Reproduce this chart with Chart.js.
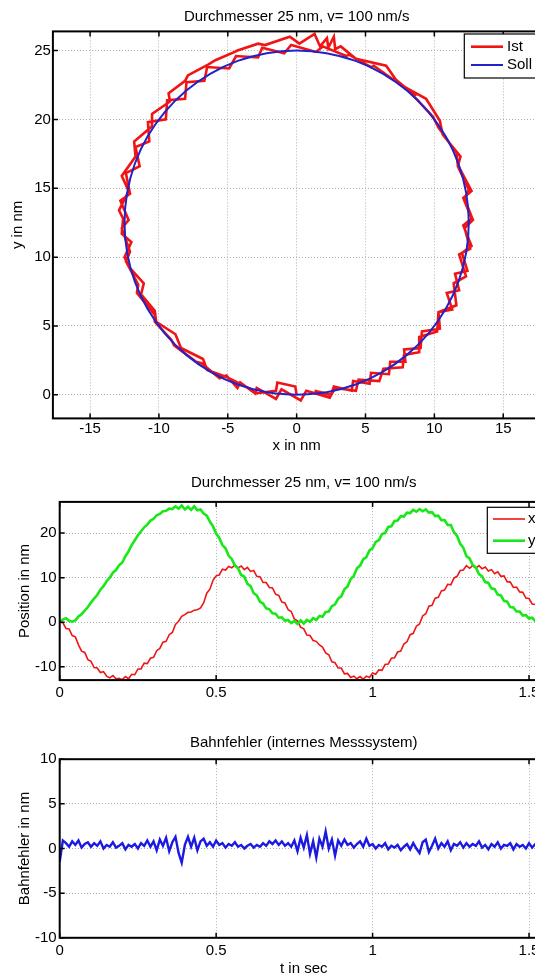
<!DOCTYPE html>
<html>
<head>
<meta charset="utf-8">
<script src="https://cdn.jsdelivr.net/npm/chart.js@4.4.1/dist/chart.umd.min.js"></script>
<style>
  html, body { margin: 0; padding: 0; background: #fff; overflow: hidden; }
  #page { position: relative; width: 535px; height: 979px; overflow: hidden; }
  canvas { position: absolute; left: 0; }
</style>
</head>
<body>
<div id="page">
  <canvas id="circleChart" width="575" height="460" style="top:0"></canvas>
  <canvas id="posChart" width="575" height="260" style="top:460px"></canvas>
  <canvas id="errChart" width="575" height="259" style="top:720px"></canvas>
</div>
<script>
// time base in sec (sampled every 10 ms)
const tSec = [
  0, 0.01, 0.02, 0.03, 0.04, 0.05, 0.06, 0.07, 0.08, 0.09,
  0.1, 0.11, 0.12, 0.13, 0.14, 0.15, 0.16, 0.17, 0.18, 0.19,
  0.2, 0.21, 0.22, 0.23, 0.24, 0.25, 0.26, 0.27, 0.28, 0.29,
  0.3, 0.31, 0.32, 0.33, 0.34, 0.35, 0.36, 0.37, 0.38, 0.39,
  0.4, 0.41, 0.42, 0.43, 0.44, 0.45, 0.46, 0.47, 0.48, 0.49,
  0.5, 0.51, 0.52, 0.53, 0.54, 0.55, 0.56, 0.57, 0.58, 0.59,
  0.6, 0.61, 0.62, 0.63, 0.64, 0.65, 0.66, 0.67, 0.68, 0.69,
  0.7, 0.71, 0.72, 0.73, 0.74, 0.75, 0.76, 0.77, 0.78, 0.79,
  0.8, 0.81, 0.82, 0.83, 0.84, 0.85, 0.86, 0.87, 0.88, 0.89,
  0.9, 0.91, 0.92, 0.93, 0.94, 0.95, 0.96, 0.97, 0.98, 0.99,
  1, 1.01, 1.02, 1.03, 1.04, 1.05, 1.06, 1.07, 1.08, 1.09,
  1.1, 1.11, 1.12, 1.13, 1.14, 1.15, 1.16, 1.17, 1.18, 1.19,
  1.2, 1.21, 1.22, 1.23, 1.24, 1.25, 1.26, 1.27, 1.28, 1.29,
  1.3, 1.31, 1.32, 1.33, 1.34, 1.35, 1.36, 1.37, 1.38, 1.39,
  1.4, 1.41, 1.42, 1.43, 1.44, 1.45, 1.46, 1.47, 1.48, 1.49,
  1.5, 1.51, 1.52, 1.53, 1.54, 1.55
];
// Ist position x in nm
const xPos = [
  0.0, -0.1, -1.4, -1.5, -3.0, -3.3, -5.1, -6.5, -6.8, -8.4,
  -8.8, -10.2, -10.3, -11.3, -11.1, -12.1, -12.5, -12.0, -12.7, -12.6,
  -12.9, -12.2, -12.7, -11.7, -11.8, -10.5, -10.5, -9.2, -9.3, -8.1,
  -7.9, -6.4, -5.9, -4.5, -4.3, -2.8, -2.3, -0.5, 0.2, 1.3,
  1.7, 2.2, 2.3, 2.7, 2.8, 3.2, 4.3, 6.5, 7.4, 9.4,
  10.4, 10.6, 11.9, 11.7, 12.5, 12.2, 12.8, 12.2, 12.6, 11.8,
  12.3, 11.4, 11.6, 10.3, 10.2, 8.9, 8.9, 7.8, 7.7, 6.3,
  6.0, 4.5, 4.3, 2.8, 2.4, 0.7, 0.3, -1.1, -1.5, -2.9,
  -3.0, -4.1, -4.3, -5.1, -5.6, -6.9, -7.3, -8.9, -9.1, -10.3,
  -10.3, -11.6, -11.5, -12.4, -12.1, -12.7, -12.2, -12.8, -12.1, -12.4,
  -11.4, -11.7, -10.7, -10.8, -9.5, -9.4, -8.1, -8.0, -6.7, -6.5,
  -4.9, -4.4, -2.8, -2.5, -0.9, -0.4, 1.4, 1.9, 3.6, 3.8,
  5.4, 5.6, 7.0, 7.2, 8.5, 8.4, 9.9, 10.3, 11.6, 11.7,
  12.7, 12.1, 12.7, 12.1, 12.7, 12.0, 12.4, 11.5, 11.8, 10.9,
  11.3, 10.3, 10.4, 9.1, 9.0, 7.8, 7.9, 6.8, 6.7, 5.4,
  5.3, 4.1, 4.0, 2.7, 2.5, 1.3
];
// Ist position y in nm
const yPos = [
  0.0, 0.6, 0.9, 0.3, 0.1, 0.4, 1.3, 1.8, 2.6, 3.4,
  4.4, 5.3, 6.1, 7.3, 8.1, 9.2, 10.0, 11.1, 11.7, 12.8,
  13.4, 14.8, 15.9, 17.3, 18.4, 19.5, 20.4, 21.3, 21.9, 22.8,
  23.2, 24.0, 24.3, 24.9, 25.0, 25.5, 25.4, 26.0, 25.5, 26.2,
  25.3, 25.9, 25.2, 26.0, 25.1, 25.3, 24.4, 23.9, 22.6, 21.5,
  19.9, 18.9, 17.3, 16.6, 14.9, 14.2, 12.7, 12.1, 10.6, 10.2,
  8.6, 8.1, 6.5, 6.0, 4.6, 4.2, 3.1, 2.9, 2.0, 1.9,
  1.0, 1.1, 0.3, 0.5, -0.2, 0.3, -0.4, 0.4, -0.3, 0.5,
  0.1, 0.9, 0.5, 1.4, 1.2, 2.3, 2.4, 3.6, 4.0, 5.3,
  5.8, 7.4, 8.0, 9.7, 10.4, 12.1, 12.7, 14.1, 14.6, 16.1,
  16.6, 18.0, 18.4, 19.8, 20.0, 21.4, 21.5, 22.7, 22.8, 23.8,
  23.7, 24.6, 24.5, 25.2, 24.8, 25.4, 24.9, 25.3, 24.6, 24.7,
  23.8, 23.9, 22.9, 22.9, 21.8, 21.8, 20.2, 19.4, 17.6, 16.7,
  14.8, 14.3, 12.8, 12.3, 10.8, 10.3, 9.0, 8.8, 7.6, 7.4,
  6.2, 6.0, 4.8, 4.6, 3.4, 3.3, 2.4, 2.4, 1.5, 1.6,
  0.8, 1.0, 0.3, 0.6, 0.0, 0.3
];
// Bahnfehler in nm
const bahnFehler = [
  -1.5, 0.9, 0.6, 0.2, 0.8, 0.4, 0.9, 0.1, 0.5, 0.7,
  0.2, 0.6, 0.3, 0.8, 0.0, 0.4, 0.2, 0.7, 0.1, 0.3,
  0.6, -0.1, 0.4, 0.2, 0.5, 0.0, 0.6, 0.3, 0.9, 0.2,
  0.8, -0.2, 1.0, 0.3, 1.2, -0.3, 0.7, 1.3, -0.5, -1.6,
  0.4, 1.3, 0.2, 1.2, -0.2, 0.8, 1.1, 0.3, 0.7, 0.2,
  0.9, 0.4, 0.6, 0.1, 0.5, 0.3, 0.7, 0.2, 0.4, 0.0,
  0.3, 0.5, 0.1, 0.4, 0.2, 0.6, 0.3, 0.8, 0.5, 0.9,
  0.4, 0.8, 0.3, 0.6, 0.2, 0.9, -0.3, 1.2, 0.1, 1.5,
  -0.6, 0.8, -1.0, 1.1, 0.2, 1.9, 0.0, 1.0, -0.8, 0.9,
  0.3, 1.0, 0.4, 0.6, 0.1, 0.5, 0.8, 0.2, 1.1, 0.3,
  0.5, 0.0, 0.4, 0.2, 0.6, -0.1, 0.3, 0.1, 0.4, -0.2,
  0.2, 0.5, -0.1, 0.6, 0.0, -0.5, 0.7, 1.0, -0.4, 0.3,
  1.1, 0.0, 0.6, 0.2, 0.8, -0.2, 0.5, 0.3, 0.7, 0.1,
  0.6, 0.2, 0.5, 0.3, 0.8, 0.1, 0.4, -0.1, 0.5, 0.2,
  0.7, 0.0, 0.4, 0.3, 0.6, -0.1, 0.5, 0.2, 0.4, 0.0,
  0.6, 0.1, 0.5, -0.2, 0.3, 0.4
];
// Soll circle, diameter 25 nm
const sollX = [
  0, 2.17, 4.28, 6.25, 8.03, 9.58, 10.83, 11.75, 12.31, 12.5,
  12.31, 11.75, 10.83, 9.58, 8.03, 6.25, 4.28, 2.17, 0,
  -2.17, -4.28, -6.25, -8.03, -9.58, -10.83, -11.75, -12.31, -12.5,
  -12.31, -11.75, -10.83, -9.58, -8.03, -6.25, -4.28, -2.17, 0
];
const sollY = [
  0, 0.19, 0.75, 1.67, 2.92, 4.47, 6.25, 8.22, 10.33, 12.5,
  14.67, 16.78, 18.75, 20.53, 22.08, 23.33, 24.25, 24.81, 25,
  24.81, 24.25, 23.33, 22.08, 20.53, 18.75, 16.78, 14.67, 12.5,
  10.33, 8.22, 6.25, 4.47, 2.92, 1.67, 0.75, 0.19, 0
];
// tick labels
const circleXTicks = [-15, -10, -5, 0, 5, 10, 15];
const circleYTicks = [0, 5, 10, 15, 20, 25];
const timeTicks = [0, 0.5, 1, 1.5];
const posYTicks = [-10, 0, 10, 20];
const errYTicks = [-10, -5, 0, 5, 10];

Chart.defaults.font.family = '"Liberation Sans", Arial, sans-serif';
Chart.defaults.font.size = 15;
Chart.defaults.color = '#000';
Chart.defaults.animation = false;

const FONT = '15px "Liberation Sans", Arial, sans-serif';

// matlab look: frame, inward ticks, title and legend box
const matlabFrame = {
  id: 'matlabFrame',
  afterDraw(chart, args, opts) {
    const ctx = chart.ctx;
    const a = chart.chartArea;
    const xs = chart.scales.x;
    const ys = chart.scales.y;
    ctx.save();
    ctx.strokeStyle = '#000';
    ctx.lineWidth = 1.5;
    ctx.beginPath();
    xs.ticks.forEach(t => {
      const px = xs.getPixelForValue(t.value);
      ctx.moveTo(px, a.bottom); ctx.lineTo(px, a.bottom - 5);
      ctx.moveTo(px, a.top); ctx.lineTo(px, a.top + 5);
    });
    ys.ticks.forEach(t => {
      const py = ys.getPixelForValue(t.value);
      ctx.moveTo(a.left, py); ctx.lineTo(a.left + 5, py);
      ctx.moveTo(a.right, py); ctx.lineTo(a.right - 5, py);
    });
    ctx.stroke();
    ctx.lineWidth = 2;
    ctx.strokeRect(a.left, a.top, a.right - a.left, a.bottom - a.top);

    ctx.font = FONT;
    ctx.fillStyle = '#000';
    ctx.textAlign = 'center';
    ctx.textBaseline = 'middle';
    ctx.fillText(opts.title, (a.left + a.right) / 2, opts.titleY);

    if (opts.legend) {
      const L = opts.legend;
      ctx.fillStyle = '#fff';
      ctx.fillRect(L.x, L.y, L.w, L.h);
      ctx.strokeStyle = '#000';
      ctx.lineWidth = 1.2;
      ctx.strokeRect(L.x, L.y, L.w, L.h);
      ctx.textAlign = 'left';
      L.rows.forEach(row => {
        const ds = chart.data.datasets[row.index];
        ctx.strokeStyle = ds.borderColor;
        ctx.lineWidth = ds.borderWidth;
        ctx.beginPath();
        ctx.moveTo(L.sx0, row.y);
        ctx.lineTo(L.sx1, row.y);
        ctx.stroke();
        ctx.fillStyle = '#000';
        ctx.fillText(ds.label, L.tx, row.y);
      });
    }
    ctx.restore();
  }
};

function gridOpts() {
  return { color: '#b0b0b0', lineWidth: 1, drawTicks: false };
}
function borderOpts() {
  return { display: false, dash: [1, 2] };
}

// TOP: circle Ist / Soll
new Chart(document.getElementById('circleChart'), {
  type: 'scatter',
  data: {
    datasets: [
      {
        label: 'Ist',
        data: xPos.map((x, i) => ({ x: x, y: yPos[i] })),
        borderColor: '#f01414',
        borderWidth: 2.6,
        showLine: true,
        pointRadius: 0,
        order: 2
      },
      {
        label: 'Soll',
        data: sollX.map((x, i) => ({ x: x, y: sollY[i] })),
        borderColor: '#2222c8',
        borderWidth: 2,
        showLine: true,
        pointRadius: 0,
        tension: 0.4,
        order: 1
      }
    ]
  },
  options: {
    responsive: false,
    events: [],
    layout: { padding: { left: 0, top: 31.4, right: 34.6, bottom: 0 } },
    plugins: {
      legend: { display: false },
      tooltip: { enabled: false },
      matlabFrame: {
        title: 'Durchmesser 25 nm, v= 100 nm/s',
        titleY: 16.4,
        legend: {
          x: 464.3, y: 34, w: 74, h: 44, sx0: 471, sx1: 503, tx: 507,
          rows: [{ index: 0, y: 46.7 }, { index: 1, y: 65 }]
        }
      }
    },
    scales: {
      x: {
        type: 'linear', min: -17.7, max: 17.7,
        afterBuildTicks: s => { s.ticks = circleXTicks.map(v => ({ value: v })); },
        afterFit: s => { s.height = 41.6; },
        grid: gridOpts(), border: borderOpts(),
        ticks: { padding: 1, maxRotation: 0, autoSkip: false, callback: v => String(v) },
        title: { display: true, text: 'x in nm', padding: { top: 0, bottom: 5.4 } }
      },
      y: {
        type: 'linear', min: -1.71, max: 26.39,
        afterBuildTicks: s => { s.ticks = circleYTicks.map(v => ({ value: v })); },
        afterFit: s => { s.width = 52.9; },
        grid: gridOpts(), border: borderOpts(),
        ticks: { padding: 2, autoSkip: false, callback: v => String(v) },
        title: { display: true, text: 'y in nm', padding: { top: 9, bottom: 0 } }
      }
    }
  },
  plugins: [matlabFrame]
});

// MIDDLE: x / y over time
new Chart(document.getElementById('posChart'), {
  type: 'scatter',
  data: {
    datasets: [
      {
        label: 'x',
        data: tSec.map((t, i) => ({ x: t, y: xPos[i] })),
        borderColor: '#ee1515',
        borderWidth: 1.6,
        showLine: true,
        pointRadius: 0,
        order: 2
      },
      {
        label: 'y',
        data: tSec.map((t, i) => ({ x: t, y: yPos[i] })),
        borderColor: '#18e818',
        borderWidth: 2.6,
        showLine: true,
        pointRadius: 0,
        order: 1
      }
    ]
  },
  options: {
    responsive: false,
    events: [],
    layout: { padding: { left: 0, top: 41.9, right: 27.2, bottom: 0 } },
    plugins: {
      legend: { display: false },
      tooltip: { enabled: false },
      matlabFrame: {
        title: 'Durchmesser 25 nm, v= 100 nm/s',
        titleY: 23,
        legend: {
          x: 487.3, y: 47.3, w: 60, h: 46, sx0: 493, sx1: 525, tx: 528,
          rows: [{ index: 0, y: 59 }, { index: 1, y: 80.7 }]
        }
      }
    },
    scales: {
      x: {
        type: 'linear', min: 0, max: 1.56,
        afterBuildTicks: s => { s.ticks = timeTicks.map(v => ({ value: v })); },
        afterFit: s => { s.height = 39.9; },
        grid: gridOpts(), border: borderOpts(),
        ticks: { padding: 4, maxRotation: 0, autoSkip: false, callback: v => String(v) }
      },
      y: {
        type: 'linear', min: -13, max: 27,
        afterBuildTicks: s => { s.ticks = posYTicks.map(v => ({ value: v })); },
        afterFit: s => { s.width = 59.7; },
        grid: gridOpts(), border: borderOpts(),
        ticks: { padding: 3, autoSkip: false, callback: v => String(v) },
        title: { display: true, text: 'Position in nm', padding: { top: 15.7, bottom: 0 } }
      }
    }
  },
  plugins: [matlabFrame]
});

// BOTTOM: path error
new Chart(document.getElementById('errChart'), {
  type: 'scatter',
  data: {
    datasets: [
      {
        label: 'Bahnfehler',
        data: tSec.map((t, i) => ({ x: t, y: bahnFehler[i] })),
        borderColor: '#1a1ae0',
        borderWidth: 2.4,
        showLine: true,
        pointRadius: 0
      }
    ]
  },
  options: {
    responsive: false,
    events: [],
    layout: { padding: { left: 0, top: 39.2, right: 27.2, bottom: 0 } },
    plugins: {
      legend: { display: false },
      tooltip: { enabled: false },
      matlabFrame: {
        title: 'Bahnfehler (internes Messsystem)',
        titleY: 23
      }
    },
    scales: {
      x: {
        type: 'linear', min: 0, max: 1.56,
        afterBuildTicks: s => { s.ticks = timeTicks.map(v => ({ value: v })); },
        afterFit: s => { s.height = 41.2; },
        grid: gridOpts(), border: borderOpts(),
        ticks: { padding: 4, maxRotation: 0, autoSkip: false, callback: v => String(v) },
        title: { display: true, text: 't in sec', padding: { top: 0, bottom: 1 } }
      },
      y: {
        type: 'linear', min: -10, max: 10,
        afterBuildTicks: s => { s.ticks = errYTicks.map(v => ({ value: v })); },
        afterFit: s => { s.width = 59.7; },
        grid: gridOpts(), border: borderOpts(),
        ticks: { padding: 3, autoSkip: false, callback: v => String(v) },
        title: { display: true, text: 'Bahnfehler in nm', padding: { top: 15.7, bottom: 0 } }
      }
    }
  },
  plugins: [matlabFrame]
});
</script>
</body>
</html>
